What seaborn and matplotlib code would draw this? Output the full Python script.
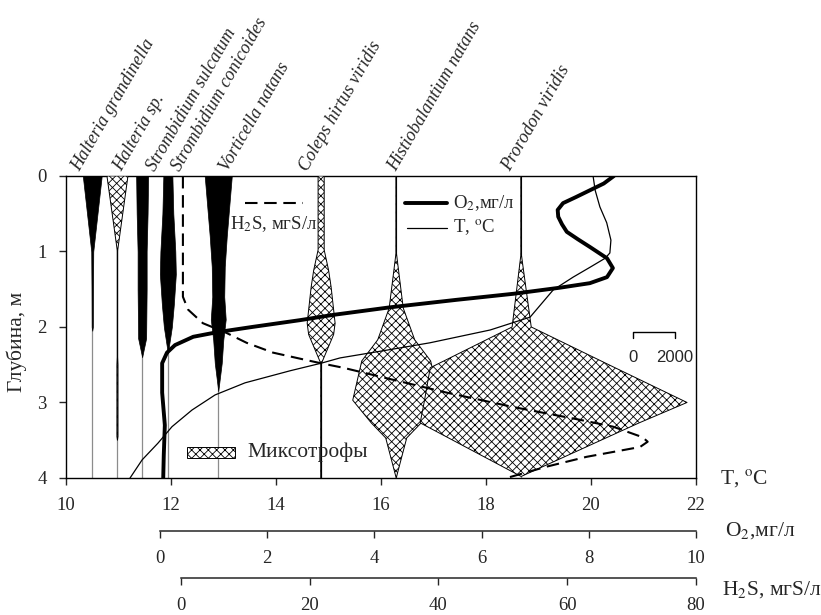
import matplotlib
matplotlib.use("Agg")
import matplotlib.pyplot as plt
import matplotlib.transforms as mtransforms
from matplotlib.patches import Rectangle
import seaborn as sns


# axes ticks
t_ticks = [10, 12, 14, 16, 18, 20, 22]
o2_ticks = [0, 2, 4, 6, 8, 10]
h2s_ticks = [0, 20, 40, 60, 80]
depth_ticks = [0, 1, 2, 3, 4]

# temperature, oC
t_depth = [0, 0.19, 0.41, 0.62, 0.85, 1.02, 1.09, 1.21, 1.34, 1.51, 1.87, 2.04,
           2.21, 2.30, 2.41, 2.48, 2.58, 2.74, 2.90, 3.10, 3.32, 3.54, 3.76, 4.0]
t_val = [20.04, 20.08, 20.17, 20.30, 20.38, 20.36, 20.27, 19.98, 19.66, 19.28, 18.84, 18.08,
         16.93, 16.17, 15.22, 14.86, 14.27, 13.41, 12.84, 12.40, 12.02, 11.75, 11.45, 11.22]

# oxygen, mg/l
o2_depth = [0, 0.10, 0.19, 0.28, 0.36, 0.45, 0.54, 0.64, 0.74, 0.84, 0.94, 1.09, 1.22,
            1.34, 1.42, 1.48, 1.56, 1.64, 1.74, 1.84, 1.91, 2.00, 2.07, 2.13, 2.24,
            2.34, 2.48, 2.87, 3.30, 3.70, 4.0]
o2_val = [8.47, 8.28, 8.02, 7.76, 7.52, 7.42, 7.43, 7.50, 7.59, 7.80, 8.02, 8.34, 8.45,
          8.34, 8.02, 7.46, 6.60, 5.54, 4.29, 3.23, 2.61, 1.72, 1.06, 0.62, 0.28,
          0.13, 0.04, 0.04, 0.09, 0.07, 0.06]

# hydrogen sulphide, mgS/l
h2s_depth = [0, 1.60, 1.77, 1.95, 2.08, 2.21, 2.34, 2.42, 2.48, 2.54, 2.68, 2.87, 3.06,
             3.23, 3.32, 3.46, 3.52, 3.59, 3.72, 3.85, 4.0]
h2s_val = [0.3, 0.3, 1.1, 3.4, 7.1, 10.2, 14.3, 18.5, 21.7, 25.2, 32.0, 41.3, 51.6,
           62.0, 67.1, 71.7, 72.5, 71.3, 63.0, 56.8, 50.6]

species = ["Halteria grandinella", "Halteria sp.", "Strombidium sulcatum",
           "Strombidium conicoides", "Vorticella natans", "Coleps hirtus viridis",
           "Histiobalantium natans", "Prorodon viridis"]
species_x = [10.50, 10.98, 11.45, 11.94, 12.90, 14.86, 16.29, 18.67]
mixotroph = [False, True, False, False, False, True, True, True]
label_x = [10.27, 11.07, 11.70, 12.17, 13.09, 14.61, 16.29, 18.46]

# abundance, ind (full width of the kite)
hg_depth = [0, 1.0, 1.5, 2.0, 2.05]
hg_ab = [900, 95, 70, 55, 0]
hs_depth = [0, 0.98, 1.0, 2.4, 2.5, 3.45, 3.5]
hs_ab = [1000, 25, 20, 20, 50, 50, 0]
ss_depth = [0, 0.5, 1.0, 1.5, 2.15, 2.4]
ss_ab = [570, 520, 430, 430, 380, 0]
sc_depth = [0, 0.5, 1.0, 1.3, 1.7, 2.0, 2.35]
sc_ab = [430, 520, 710, 760, 570, 380, 0]
vn_depth = [0, 0.4, 0.8, 1.2, 1.6, 1.9, 2.17, 2.48, 2.85]
vn_ab = [1290, 1050, 810, 620, 570, 710, 480, 330, 0]
ch_depth = [0, 0.98, 1.25, 1.47, 1.95, 2.1, 2.48, 4.0]
ch_ab = [290, 290, 710, 950, 1330, 1190, 40, 40]
hn_depth = [0, 0.99, 1.0, 1.75, 2.17, 2.45, 2.97, 3.27, 3.47, 4.0]
hn_ab = [30, 30, 0, 670, 1760, 3280, 4140, 2380, 1000, 0]
# Prorodon is not symmetric: ind left / right of its line
pv_depth = [0, 1.05, 2.0, 2.54, 3.0, 3.27, 3.98]
pv_left = [15, 15, 430, 4330, 4620, 4810, 0]
pv_right = [15, 15, 480, 4470, 7900, 5620, 0]

IND_TO_T = 0.0004  # kite width on the T scale, 2000 ind = 0.8
SCALE_BAR = 2000

sns.set_style("ticks")
plt.rcParams["font.family"] = ["Liberation Serif", "DejaVu Serif"]
plt.rcParams["mathtext.fontset"] = "stix"
plt.rcParams["hatch.linewidth"] = 0.6
plt.rcParams["axes.linewidth"] = 1.0
FS = 13.5      # tick labels, legend
FS_NAME = 15.5  # axis names

fig = plt.figure(figsize=(8.21, 6.15), dpi=100)
ax = fig.add_axes([0.0804, 0.2228, 0.7673, 0.4911])


def kite(x0, depth, left, right, hatched):
    xl = [x0 - v * IND_TO_T for v in left]
    xr = [x0 + v * IND_TO_T for v in right]
    if hatched:
        ax.fill_betweenx(depth, xl, xr, facecolor="white", edgecolor="black",
                         hatch="xxxx", lw=0.7, zorder=3)
    else:
        ax.fill_betweenx(depth, xl, xr, facecolor="black", edgecolor="black",
                         lw=0.5, zorder=3)


ax.vlines(species_x, 0, 4, color="0.55", lw=0.9, zorder=2)

sym = [(hg_depth, hg_ab), (hs_depth, hs_ab), (ss_depth, ss_ab), (sc_depth, sc_ab),
       (vn_depth, vn_ab), (ch_depth, ch_ab), (hn_depth, hn_ab)]
for i, (d, a) in enumerate(sym):
    half = [v / 2 for v in a]
    kite(species_x[i], d, half, half, mixotroph[i])
kite(species_x[7], pv_depth, pv_left, pv_right, mixotroph[7])

# temperature on the main axis
sns.lineplot(x=t_val, y=t_depth, sort=False, estimator=None, orient="y",
             color="black", lw=0.9, zorder=5, ax=ax)

# O2 and H2S on their own x scales
ax_o2 = ax.twiny()
ax_h2s = ax.twiny()
ax_o2.set_xlim(-1.754, 10)
ax_h2s.set_xlim(-17.86, 80)
sns.lineplot(x=o2_val, y=o2_depth, sort=False, estimator=None, orient="y",
             color="black", lw=2.8, ax=ax_o2)
sns.lineplot(x=h2s_val, y=h2s_depth, sort=False, estimator=None, orient="y",
             color="black", lw=1.5, ax=ax_h2s)
ax_h2s.lines[-1].set_dashes((6, 3.2))

ax.set_xlim(10, 22)
ax.set_ylim(4, 0)
ax.set_xticks(t_ticks)
ax.set_yticks(depth_ticks)
ax.set_xlabel("")
ax.set_ylabel("Глубина, м", fontsize=FS_NAME)
ax.yaxis.set_label_coords(-0.062, 0.45)
ax.tick_params(axis="both", direction="out", length=5, width=1.0, labelsize=FS,
               pad=9, top=False, right=False)
for s in ["top", "right", "left", "bottom"]:
    ax.spines[s].set_visible(True)
    ax.spines[s].set_color("black")

for a, off, hi, ticks in [(ax_o2, 38, 10, o2_ticks), (ax_h2s, 72, 80, h2s_ticks)]:
    a.xaxis.set_ticks_position("bottom")
    a.set_xticks(ticks)
    a.set_xlabel("")
    a.set_ylabel("")
    for s in ["top", "left", "right"]:
        a.spines[s].set_visible(False)
    a.spines["bottom"].set_visible(True)
    a.spines["bottom"].set_position(("outward", off))
    a.spines["bottom"].set_bounds(0, hi)
    a.spines["bottom"].set_linewidth(1.1)
    a.tick_params(axis="x", direction="out", length=5, width=1.0, labelsize=FS, pad=9)

# axis names on the right
ax.annotate("T, $^{\\rm o}$C", xy=(1, 0), xycoords="axes fraction", xytext=(17, 0),
            textcoords="offset points", ha="left", va="center", fontsize=FS_NAME,
            annotation_clip=False)
ax.annotate("O$_2$,мг/л", xy=(1, 0), xycoords="axes fraction", xytext=(21, -38),
            textcoords="offset points", ha="left", va="center", fontsize=FS_NAME,
            annotation_clip=False)
ax.annotate("H$_2$S, мгS/л", xy=(1, 0), xycoords="axes fraction", xytext=(19, -80),
            textcoords="offset points", ha="left", va="center", fontsize=FS_NAME,
            annotation_clip=False)

# species names
trans = mtransforms.blended_transform_factory(ax.transData, ax.transAxes)
for name, x in zip(species, label_x):
    ax.text(x, 1.013, name, transform=trans, rotation=60, rotation_mode="anchor",
            ha="left", va="baseline", style="italic", fontsize=13, clip_on=False)

# legend glyphs
ta = ax.transAxes
ax.plot([0.284, 0.376], [0.911, 0.911], color="black", lw=1.5, dashes=(6, 3.2),
        transform=ta, zorder=6)
ax.text(0.260, 0.840, "H$_2$S, мгS/л", transform=ta, ha="left", va="center",
        fontsize=FS, zorder=6)
ax.plot([0.538, 0.605], [0.911, 0.911], color="black", lw=2.8, transform=ta, zorder=6)
ax.text(0.614, 0.911, "O$_2$,мг/л", transform=ta, ha="left", va="center",
        fontsize=FS, zorder=6)
ax.plot([0.541, 0.605], [0.828, 0.828], color="black", lw=0.9, transform=ta, zorder=6)
ax.text(0.614, 0.828, "T, $^{\\rm o}$C", transform=ta, ha="left", va="center",
        fontsize=FS, zorder=6)
ax.add_patch(Rectangle((0.192, 0.066), 0.076, 0.037, transform=ta, facecolor="white",
                       edgecolor="black", hatch="xxxx", lw=0.7, zorder=6))
ax.text(0.288, 0.085, "Миксотрофы", transform=ta, ha="left", va="center",
        fontsize=FS_NAME, zorder=6)

# scale bar for the kites
sb0 = 20.8
sb1 = sb0 + SCALE_BAR * IND_TO_T
ax.plot([sb0, sb0, sb1, sb1], [2.14, 2.07, 2.07, 2.14], color="black", lw=1.0, zorder=6)
ax.text(sb0, 2.40, "0", ha="center", va="center", fontsize=12,
        family="Liberation Sans", zorder=6)
ax.text(sb1, 2.40, str(SCALE_BAR), ha="center", va="center", fontsize=12,
        family="Liberation Sans", zorder=6)

fig.savefig("out.png", dpi=100)
